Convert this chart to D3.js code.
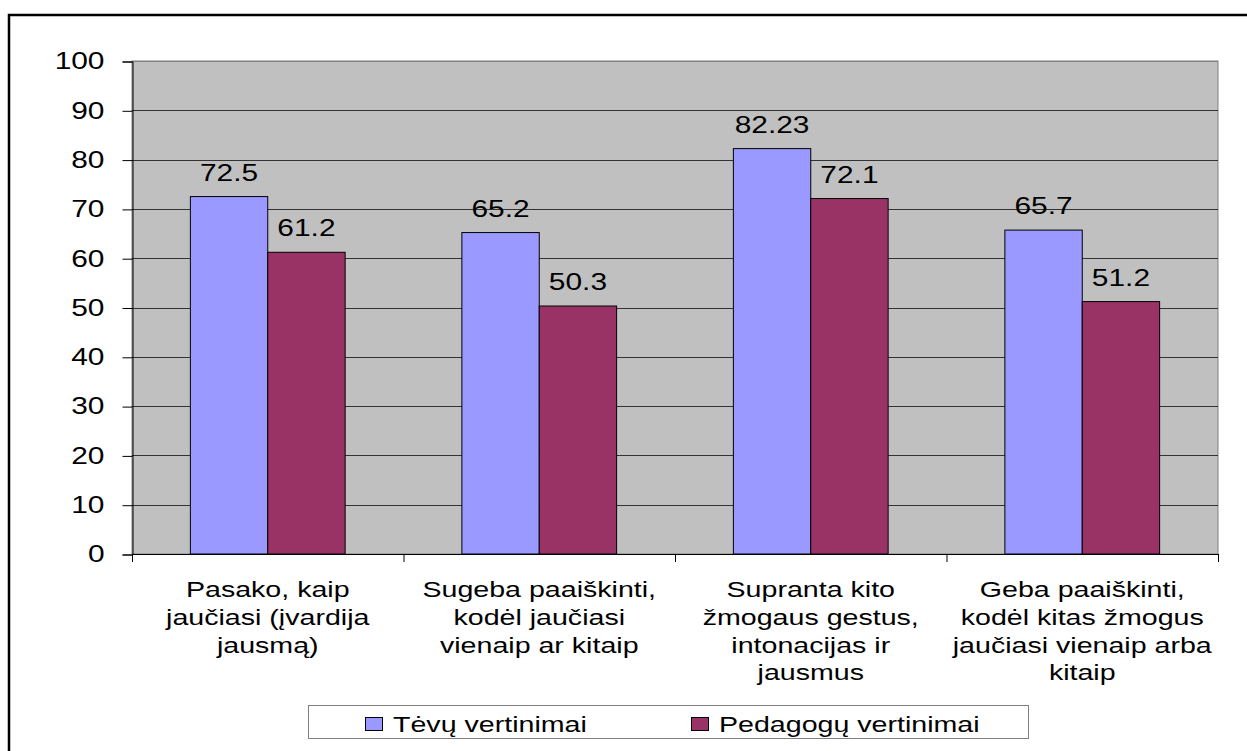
<!DOCTYPE html>
<html><head><meta charset="utf-8">
<script src="https://cdn.jsdelivr.net/npm/d3@7"></script>
<style>
html,body{margin:0;padding:0;background:#fff;overflow:hidden;}
text{font-family:"Liberation Sans",Arial,sans-serif;fill:#000;}
</style></head>
<body>
<svg id="c" width="1247" height="751"></svg>
<script>
const categories = [
  ["Pasako, kaip","jaučiasi (įvardija","jausmą)"],
  ["Sugeba paaiškinti,","kodėl jaučiasi","vienaip ar kitaip"],
  ["Supranta kito","žmogaus gestus,","intonacijas ir","jausmus"],
  ["Geba paaiškinti,","kodėl kitas žmogus","jaučiasi vienaip arba","kitaip"]
];
const seriesNames = ["Tėvų vertinimai","Pedagogų vertinimai"];
const tevu = [72.5, 65.2, 82.23, 65.7];
const pedagogu = [61.2, 50.3, 72.1, 51.2];
const yTicks = [0,10,20,30,40,50,60,70,80,90,100];
const colors = ["#9999FF","#993366"];

(function(){
const SX = 1.30;
const svg = d3.select("#c");
// outer border
svg.append("rect").attr("x",9).attr("y",15).attr("width",1300).attr("height",800)
  .attr("fill","none").attr("stroke","#000").attr("stroke-width",2.5);

const pL=132, pR=1218, pT=61, pB=554;
const x = d3.scaleBand().domain(d3.range(categories.length)).range([pL,pR]).padding(0);
const y = d3.scaleLinear().domain([0,100]).range([pB,pT]);
const bw = x.bandwidth()*0.285;
const off = (x.bandwidth()-2*bw)/2;

svg.append("rect").attr("x",pL).attr("y",pT).attr("width",pR-pL).attr("height",pB-pT)
  .attr("fill","#C0C0C0").attr("stroke","#808080").attr("stroke-width",1);

// gridlines
svg.append("g").selectAll("line").data(yTicks.filter(d=>d>0)).join("line")
  .attr("x1",pL).attr("x2",pR).attr("y1",d=>Math.round(y(d))+0.5).attr("y2",d=>Math.round(y(d))+0.5)
  .attr("stroke",d=>d===100?"#808080":"#333").attr("stroke-width",1);

// y axis
const yAxis = d3.axisLeft(y).tickValues(yTicks).tickSize(10).tickPadding(18);
const gy = svg.append("g").attr("transform",`translate(${pL+0.5},0.5)`).call(yAxis);
gy.select(".domain").attr("stroke","#000");
gy.selectAll(".tick line").attr("stroke","#000");
gy.selectAll(".tick text").attr("font-size",23).attr("fill","#000")
  .attr("font-family","Liberation Sans, Arial, sans-serif")
  .each(function(){
    const t=d3.select(this); const xx=+t.attr("x");
    t.attr("x",null).attr("transform",`translate(${xx},0) scale(${SX},1)`);
  });

// bars
const series=[tevu,pedagogu];
series.forEach((vals,si)=>{
  const g=svg.append("g");
  g.selectAll("rect").data(vals).join("rect")
    .attr("x",(d,i)=>x(i)+off+si*bw).attr("y",d=>y(d))
    .attr("width",bw).attr("height",d=>pB-y(d))
    .attr("fill",colors[si]).attr("stroke","#000").attr("stroke-width",1);
  g.selectAll("text").data(vals).join("text")
    .attr("transform",(d,i)=>`translate(${x(i)+off+si*bw+bw/2},${y(d)-16}) scale(${SX},1)`)
    .attr("text-anchor","middle").attr("font-size",23).text(d=>String(d));
});

// x axis
svg.append("line").attr("x1",pL).attr("x2",pR).attr("y1",pB+0.5).attr("y2",pB+0.5).attr("stroke","#000");
svg.append("g").selectAll("line").data(d3.range(categories.length+1)).join("line")
  .attr("x1",i=>pL+i*x.step()+0.5).attr("x2",i=>pL+i*x.step()+0.5)
  .attr("y1",pB).attr("y2",pB+8).attr("stroke","#000");

// category labels
categories.forEach((lines,i)=>{
  const cx = x(i)+x.bandwidth()/2;
  lines.forEach((ln,j)=>{
    svg.append("text").attr("transform",`translate(${cx},${597+j*27.8}) scale(${SX},1)`)
      .attr("text-anchor","middle").attr("font-size",22).text(ln);
  });
});

// legend
svg.append("rect").attr("x",308.5).attr("y",705.5).attr("width",720).attr("height",33)
  .attr("fill","#fff").attr("stroke","#808080").attr("stroke-width",1);
const legX=[365,691];
seriesNames.forEach((n,i)=>{
  svg.append("rect").attr("x",legX[i]+0.5).attr("y",717.5).attr("width",17).attr("height",13)
    .attr("fill",colors[i]).attr("stroke","#000").attr("stroke-width",1);
  svg.append("text").attr("transform",`translate(${legX[i]+28},732) scale(${SX},1)`)
    .attr("font-size",22).text(n);
});
})();
</script>
</body></html>
